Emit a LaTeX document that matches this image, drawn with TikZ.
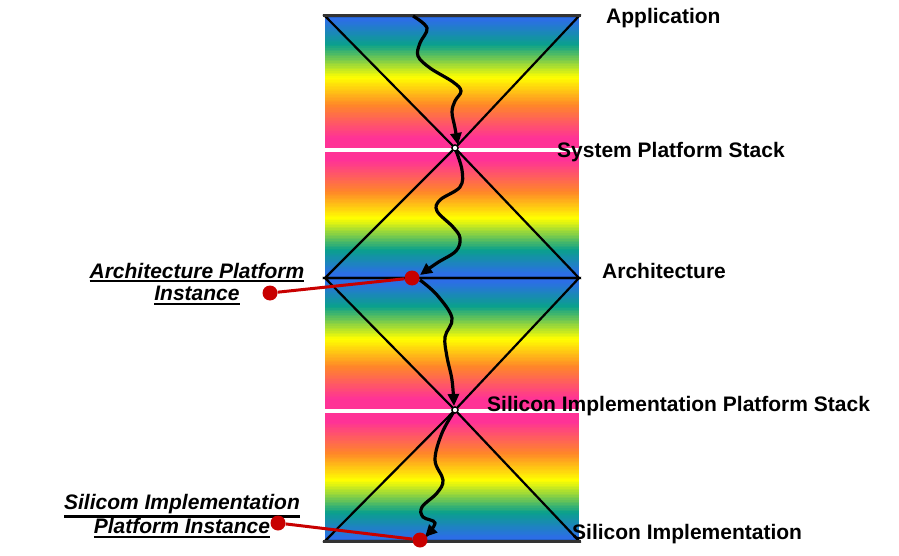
\documentclass[tikz,border=0pt]{standalone}
\usepackage{fontspec}
\setmainfont{Liberation Sans}
\usepackage{tikz}
\usetikzlibrary{arrows.meta}
\newcommand{\undl}[1]{\leavevmode\vtop{\hbox{#1}\kern1.6pt\hrule height 2.2pt}}
\definecolor{rbblue}{RGB}{44,110,230}
\definecolor{rbteal}{RGB}{10,160,140}
\definecolor{rbyellow}{RGB}{255,255,0}
\definecolor{rborange}{RGB}{255,135,40}
\definecolor{rbpink}{RGB}{255,50,150}
\definecolor{pinred}{RGB}{200,0,0}

\begin{document}
\begin{tikzpicture}[
  x=1pt, y=-1pt,
  hourglass/.style={line width=2.2pt, line join=miter},
  wave/.style={line width=3.2pt, -{Triangle[length=12pt,width=11pt]}},
  joint/.style={circle, draw, line width=1.2pt, fill=white, inner sep=0pt, minimum size=6pt},
  pin/.style={circle, fill=pinred, inner sep=0pt, minimum size=15pt},
  lead/.style={pinred, line width=3pt},
  layer/.style={font=\bfseries\fontsize{21}{23}\selectfont, anchor=base west, inner sep=0pt},
  inst/.style={font=\bfseries\itshape\fontsize{21}{22.5}\selectfont, align=center, inner sep=0pt},
]
\useasboundingbox (0,0) rectangle (899,556);

% rainbow bands (flip=1: pink on top)
\foreach \yt/\yb/\flip in {16/147/0, 152/278/1, 278/408/0, 413/541/1} {
  \foreach \s/\e/\ca/\cb in {0/3/rbblue/rbblue, 3/22/rbblue/rbteal, 22/47/rbteal/rbyellow, 47/68/rbyellow/rborange, 68/93/rborange/rbpink, 93/100/rbpink/rbpink} {
    \foreach \k in {0,...,19} {
      \pgfmathsetmacro{\fa}{\s+(\e-\s)*\k/20}
      \pgfmathsetmacro{\fb}{\s+(\e-\s)*(\k+1)/20}
      \pgfmathtruncatemacro{\mix}{\k*5+2}
      \pgfmathsetmacro{\ya}{\flip==0 ? \yt+(\yb-\yt)*\fa/100 : \yb-(\yb-\yt)*\fa/100}
      \pgfmathsetmacro{\yc}{\flip==0 ? \yt+(\yb-\yt)*\fb/100 : \yb-(\yb-\yt)*\fb/100}
      \fill[\cb!\mix!\ca] (325,\ya) rectangle (579,\yc);
      \draw[\cb!\mix!\ca, line width=0.6pt] (325,\yc) -- (579,\yc);
    }
  }
}

% platform hourglasses
\draw[hourglass] (325,16) -- (579,16) -- (455,148) -- (325,278) -- (579,278) -- (455,148) -- cycle;
\draw[hourglass] (325,278) -- (579,278) -- (455,410) -- (325,541) -- (579,541) -- (455,410) -- cycle;
\draw[line width=3pt, black!80] (323,16) -- (581,16);
\draw[line width=3pt, black!80] (323,541) -- (581,541);

\coordinate (w0) at (413,16);
\coordinate (a1) at (458,145);
\coordinate (a2) at (420,275);
\coordinate (w2) at (420,280);
\coordinate (a3) at (454,406);
\coordinate (a4) at (425,537);
\node[joint] (c1) at (455,148) {};
\node[joint] (c2) at (455,410) {};

% design flow
\draw[wave] plot[smooth, tension=0.6] coordinates {(w0) (427,28) (420,43) (418,56) (430,68) (453,82) (461,91) (455,101) (452,112) (455,128) (a1)};
\draw[wave] plot[smooth, tension=0.6] coordinates {(c1) (462,170) (460,187) (440,200) (437,211) (453,227) (460,238) (456,251) (437,263) (a2)};
\draw[wave] plot[smooth, tension=0.6] coordinates {(w2) (437,295) (452,318) (445,337) (447,357) (452,380) (a3)};
\draw[wave] plot[smooth, tension=0.6] coordinates {(c2) (442,433) (435,460) (443,480) (437,493) (422,507) (423,517) (435,523) (a4)};
\node[joint] at (c1) {};
\node[joint] at (c2) {};

% layers
\node[layer] (app) at (606,24) {Application};
\node[layer] (sps) at (557,158) {System Platform Stack};
\node[layer] (arch) at (602,278) {Architecture};
\node[layer] (sips) at (487,411) {Silicon Implementation Platform Stack};
\node[layer] (si) at (572,539) {Silicon Implementation};

% instances
\node[inst] (archinst) at (197,284) {\undl{Architecture Platform}\\\undl{Instance}};
\node[inst] (siinst) at (182,516) {\undl{Silicom Implementation}\\\undl{Platform Instance}};
\node[pin] (p1) at (412,278) {};
\node[pin] (q1) at (270,293) {};
\node[pin] (p2) at (420,540) {};
\node[pin] (q2) at (278,523) {};
\draw[lead] (q1) -- (p1);
\draw[lead] (q2) -- (p2);
\end{tikzpicture}
\end{document}
